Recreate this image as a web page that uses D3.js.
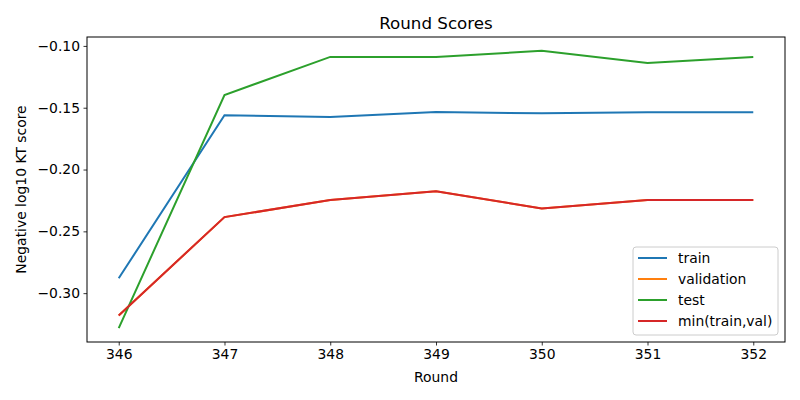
<!DOCTYPE html>
<html>
<head>
<meta charset="utf-8">
<script src="https://cdn.jsdelivr.net/npm/d3@7"></script>
<style>
  body { margin: 0; background: #fff; }
  text { font-family: "DejaVu Sans", sans-serif; fill: #000; }
</style>
</head>
<body>
<div id="chart"></div>
<script>
const width = 800;
const height = 400;
const margin = {top: 37, right: 15, bottom: 58, left: 87};

// rounds on the x axis
const rounds = [346, 347, 348, 349, 350, 351, 352];

// scores
const train = [-0.288, -0.156, -0.1575, -0.1535, -0.1545, -0.1537, -0.1537];
const validation = [-0.318, -0.2385, -0.2247, -0.2175, -0.2315, -0.2247, -0.2247];
const test = [-0.3283, -0.1397, -0.1089, -0.1089, -0.104, -0.1138, -0.1089];
const minTrainVal = [-0.318, -0.2385, -0.2247, -0.2175, -0.2315, -0.2247, -0.2247];

const yTicks = [-0.30, -0.25, -0.20, -0.15, -0.10];

const series = [
    {name: "train", values: train, color: "#1f77b4"},
    {name: "validation", values: validation, color: "#ff7f0e"},
    {name: "test", values: test, color: "#2ca02c"},
    {name: "min(train,val)", values: minTrainVal, color: "#d62728"}
];

const svg = d3.select("#chart")
    .append("svg")
    .attr("width", width)
    .attr("height", height);

const x = d3.scaleLinear()
    .domain([345.7, 352.3])
    .range([margin.left, width - margin.right]);

const allValues = series.flatMap(s => s.values);
const yMin = d3.min(allValues), yMax = d3.max(allValues);
const pad = (yMax - yMin) * 0.05;
const y = d3.scaleLinear()
    .domain([yMin - pad, yMax + pad])
    .range([height - margin.bottom, margin.top]);

// axes
const xAxis = d3.axisBottom(x).tickValues(rounds).tickFormat(d3.format("d")).tickSize(3.5).tickPadding(3.5);
const yAxis = d3.axisLeft(y).tickValues(yTicks).tickFormat(d => d3.format(".2f")(d).replace("-", "\u2212")).tickSize(3.5).tickPadding(3.5);

svg.append("g")
    .attr("transform", `translate(0,${height - margin.bottom})`)
    .call(xAxis)
    .call(g => g.select(".domain").remove())
    .selectAll("text").style("font-size", "13.9px").attr("font-family", null);

svg.append("g")
    .attr("transform", `translate(${margin.left},0)`)
    .call(yAxis)
    .call(g => g.select(".domain").remove())
    .selectAll("text").style("font-size", "13.9px").attr("font-family", null);

svg.selectAll(".tick line").attr("stroke", "#000").attr("stroke-width", 0.8);

// lines
const line = d3.line()
    .x((d, i) => x(rounds[i]))
    .y(d => y(d));

series.forEach(s => {
    svg.append("path")
        .datum(s.values)
        .attr("fill", "none")
        .attr("stroke", s.color)
        .attr("stroke-width", 2)
        .attr("d", line);
});

// frame
svg.append("rect")
    .attr("x", margin.left)
    .attr("y", margin.top)
    .attr("width", width - margin.left - margin.right)
    .attr("height", height - margin.top - margin.bottom)
    .attr("fill", "none")
    .attr("stroke", "#000")
    .attr("stroke-width", 1);

// title and labels
svg.append("text")
    .attr("x", (margin.left + width - margin.right) / 2)
    .attr("y", 29)
    .attr("text-anchor", "middle")
    .style("font-size", "16.7px")
    .text("Round Scores");

svg.append("text")
    .attr("x", (margin.left + width - margin.right) / 2)
    .attr("y", 382)
    .attr("text-anchor", "middle")
    .style("font-size", "13.9px")
    .text("Round");

svg.append("text")
    .attr("transform", `translate(26,${(margin.top + height - margin.bottom) / 2}) rotate(-90)`)
    .attr("text-anchor", "middle")
    .style("font-size", "13.9px")
    .text("Negative log10 KT score");

// legend
const legend = svg.append("g").attr("transform", "translate(633,247)");
legend.append("rect")
    .attr("width", 145)
    .attr("height", 88)
    .attr("rx", 3)
    .attr("fill", "#fff")
    .attr("fill-opacity", 0.8)
    .attr("stroke", "#ccc");

series.forEach((s, i) => {
    const ly = 11 + i * 21;
    legend.append("line")
        .attr("x1", 5).attr("x2", 34)
        .attr("y1", ly).attr("y2", ly)
        .attr("stroke", s.color)
        .attr("stroke-width", 2);
    legend.append("text")
        .attr("x", 45)
        .attr("y", ly + 5)
        .style("font-size", "13.9px")
        .text(s.name);
});
</script>
</body>
</html>
